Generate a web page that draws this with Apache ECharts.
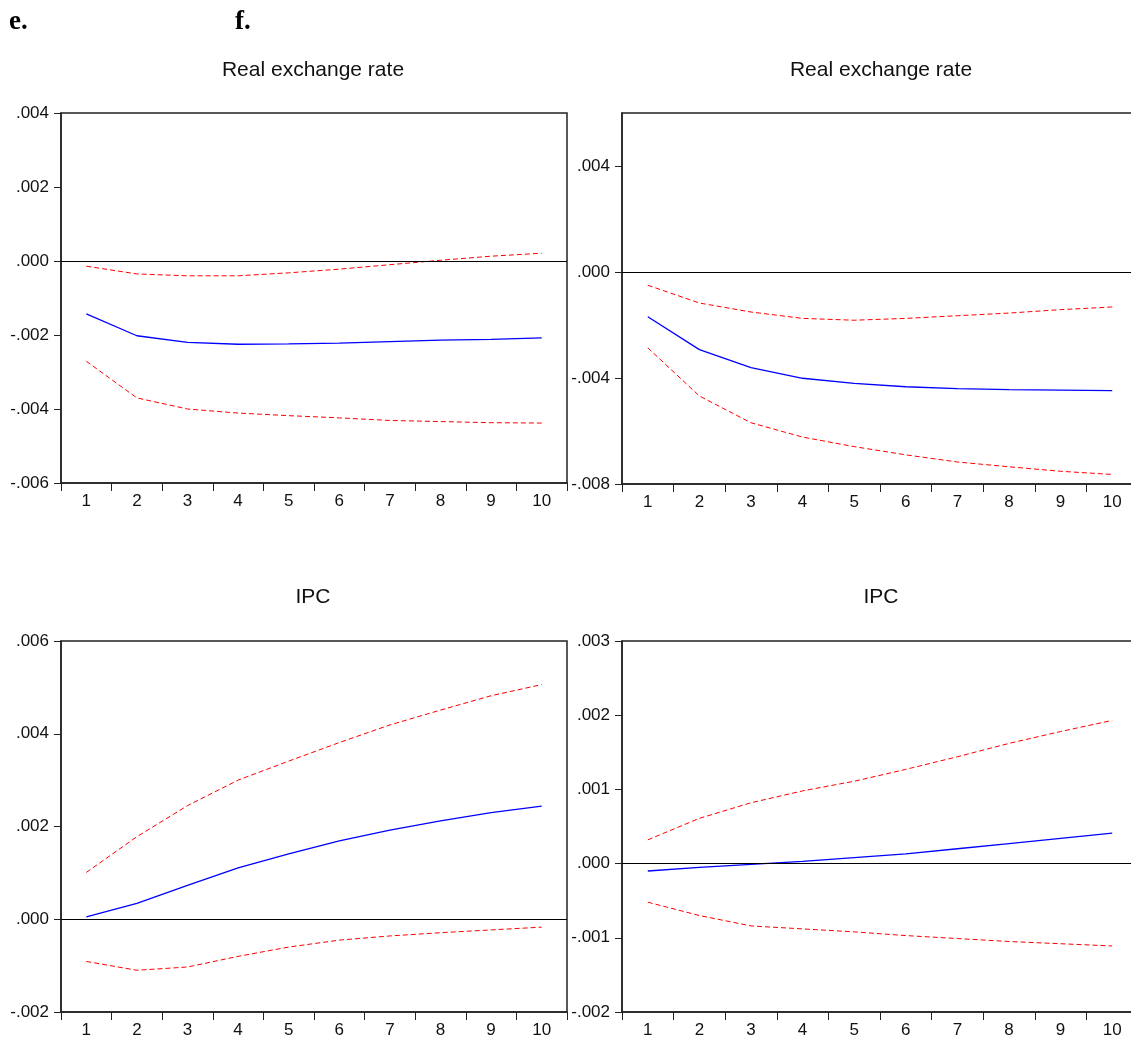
<!DOCTYPE html>
<html>
<head>
<meta charset="utf-8">
<script src="https://cdn.jsdelivr.net/npm/echarts@6/dist/echarts.min.js"></script>
<style>
html,body{margin:0;padding:0;background:#fff;}
#c{width:1131px;height:1048px;}
</style>
</head>
<body>
<div id="c"></div>
<script>
// ---- data ----
const periods = ['1','2','3','4','5','6','7','8','9','10'];

const titles = ['Real exchange rate', 'Real exchange rate', 'IPC', 'IPC'];

// Panel e: Real exchange rate
const rerE_resp  = [-0.00143, -0.00202, -0.00220, -0.00225, -0.00224, -0.00222, -0.00218, -0.00214, -0.00212, -0.00208];
const rerE_upper = [-0.00014, -0.00035, -0.00040, -0.00040, -0.00032, -0.00022, -0.00010, 0.00002, 0.00013, 0.00021];
const rerE_lower = [-0.00271, -0.00370, -0.00400, -0.00411, -0.00418, -0.00424, -0.00431, -0.00434, -0.00437, -0.00438];

// Panel f: Real exchange rate
const rerF_resp  = [-0.00169, -0.00293, -0.00361, -0.00401, -0.00420, -0.00433, -0.00440, -0.00444, -0.00446, -0.00448];
const rerF_upper = [-0.00050, -0.00117, -0.00151, -0.00175, -0.00182, -0.00175, -0.00165, -0.00155, -0.00142, -0.00132];
const rerF_lower = [-0.00286, -0.00468, -0.00569, -0.00623, -0.00659, -0.00690, -0.00717, -0.00735, -0.00752, -0.00764];

// Panel e: IPC
const ipcE_resp  = [0.00005, 0.00034, 0.00073, 0.00111, 0.00141, 0.00169, 0.00192, 0.00212, 0.00230, 0.00244];
const ipcE_upper = [0.00101, 0.00178, 0.00245, 0.00300, 0.00341, 0.00381, 0.00419, 0.00451, 0.00482, 0.00506];
const ipcE_lower = [-0.00091, -0.00110, -0.00103, -0.00080, -0.00060, -0.00045, -0.00036, -0.00029, -0.00023, -0.00017];

// Panel f: IPC
const ipcF_resp  = [-0.00010, -0.00005, -0.00001, 0.00003, 0.00008, 0.00013, 0.00020, 0.00027, 0.00034, 0.00041];
const ipcF_upper = [0.00032, 0.00061, 0.00082, 0.00098, 0.00111, 0.00127, 0.00144, 0.00162, 0.00178, 0.00193];
const ipcF_lower = [-0.00052, -0.00070, -0.00084, -0.00088, -0.00092, -0.00097, -0.00101, -0.00105, -0.00108, -0.00111];

// y-axis tick values
const yTicksE_rer = [-0.006, -0.004, -0.002, 0, 0.002, 0.004];
const yTicksF_rer = [-0.008, -0.004, 0, 0.004];
const yTicksE_ipc = [-0.002, 0, 0.002, 0.004, 0.006];
const yTicksF_ipc = [-0.002, -0.001, 0, 0.001, 0.002, 0.003];

// ---- chart ----
const chart = echarts.init(document.getElementById('c'), null, {renderer: 'canvas'});

const fmt = v => {
  const s = (Math.round(v * 1e6) / 1e6).toFixed(3);
  return s.replace(/^(-?)0\./, '$1.');
};

const grids = [
  {left: 61,  top: 113, width: 506, height: 370},
  {left: 622, top: 113, width: 516, height: 371},
  {left: 61,  top: 641, width: 506, height: 371},
  {left: 622, top: 641, width: 516, height: 371}
];

const yRanges = [
  {min: -0.006, max: 0.004, interval: 0.002, ticks: yTicksE_rer},
  {min: -0.008, max: 0.006, interval: 0.004, ticks: yTicksF_rer},
  {min: -0.002, max: 0.006, interval: 0.002, ticks: yTicksE_ipc},
  {min: -0.002, max: 0.003, interval: 0.001, ticks: yTicksF_ipc}
];

const panels = [
  [rerE_resp, rerE_upper, rerE_lower],
  [rerF_resp, rerF_upper, rerF_lower],
  [ipcE_resp, ipcE_upper, ipcE_lower],
  [ipcF_resp, ipcF_upper, ipcF_lower]
];

const labelFont = {fontFamily: 'Liberation Sans, Arial, sans-serif', fontSize: 17, color: '#111'};

const xAxes = grids.map((g, i) => ({
  type: 'category',
  gridIndex: i,
  data: periods,
  boundaryGap: true,
  axisLine: {show: true, onZero: false, lineStyle: {color: '#222', width: 1.5}},
  axisTick: {show: true, length: 8, inside: false, alignWithLabel: false, lineStyle: {color: '#222', width: 1}},
  axisLabel: Object.assign({margin: 10}, labelFont),
  splitLine: {show: false}
}));

const yAxes = yRanges.map((r, i) => ({
  type: 'value',
  gridIndex: i,
  min: r.min,
  max: r.max,
  interval: r.interval,
  axisLine: {show: true, lineStyle: {color: '#222', width: 1.5}},
  axisTick: {show: true, length: 7, inside: false, customValues: r.ticks, lineStyle: {color: '#222', width: 1}},
  axisLabel: Object.assign({margin: 12, formatter: fmt, customValues: r.ticks}, labelFont),
  splitLine: {show: false}
}));

const series = [];
panels.forEach((p, i) => {
  series.push({
    type: 'line', xAxisIndex: i, yAxisIndex: i, data: p[0],
    symbol: 'none', smooth: false,
    lineStyle: {color: '#0000ff', width: 1.3, type: 'solid'},
    markLine: {
      silent: true, symbol: 'none', label: {show: false},
      lineStyle: {color: '#000', width: 1, type: 'solid'},
      data: [{yAxis: 0}],
      animation: false
    },
    z: 3
  });
  series.push({
    type: 'line', xAxisIndex: i, yAxisIndex: i, data: p[1],
    symbol: 'none', smooth: false,
    lineStyle: {color: '#ff0000', width: 1, type: [5, 3]},
    z: 2
  });
  series.push({
    type: 'line', xAxisIndex: i, yAxisIndex: i, data: p[2],
    symbol: 'none', smooth: false,
    lineStyle: {color: '#ff0000', width: 1, type: [5, 3]},
    z: 2
  });
});

const titleFont = '21px "Liberation Sans", Arial, sans-serif';
const titlePos = [[313, 70], [881, 70], [313, 597], [881, 597]];

const graphics = titles.map((t, i) => ({
  type: 'text',
  style: {
    text: t, x: titlePos[i][0], y: titlePos[i][1],
    font: titleFont, fill: '#111',
    textAlign: 'center', textVerticalAlign: 'middle'
  }
}));
const letterFont = 'bold 27px "Liberation Serif", "Times New Roman", serif';
graphics.push({
  type: 'text',
  style: {text: 'e.', x: 9, y: 22, font: letterFont, fill: '#000', textAlign: 'left', textVerticalAlign: 'middle'}
});
graphics.push({
  type: 'text',
  style: {text: 'f.', x: 235, y: 22, font: letterFont, fill: '#000', textAlign: 'left', textVerticalAlign: 'middle'}
});

chart.setOption({
  animation: false,
  backgroundColor: '#fff',
  grid: grids.map(g => Object.assign({show: true, borderColor: '#222', borderWidth: 1.5, backgroundColor: 'transparent', outerBoundsMode: 'none', containLabel: false}, g)),
  xAxis: xAxes,
  yAxis: yAxes,
  series: series,
  graphic: graphics
});
</script>
</body>
</html>
